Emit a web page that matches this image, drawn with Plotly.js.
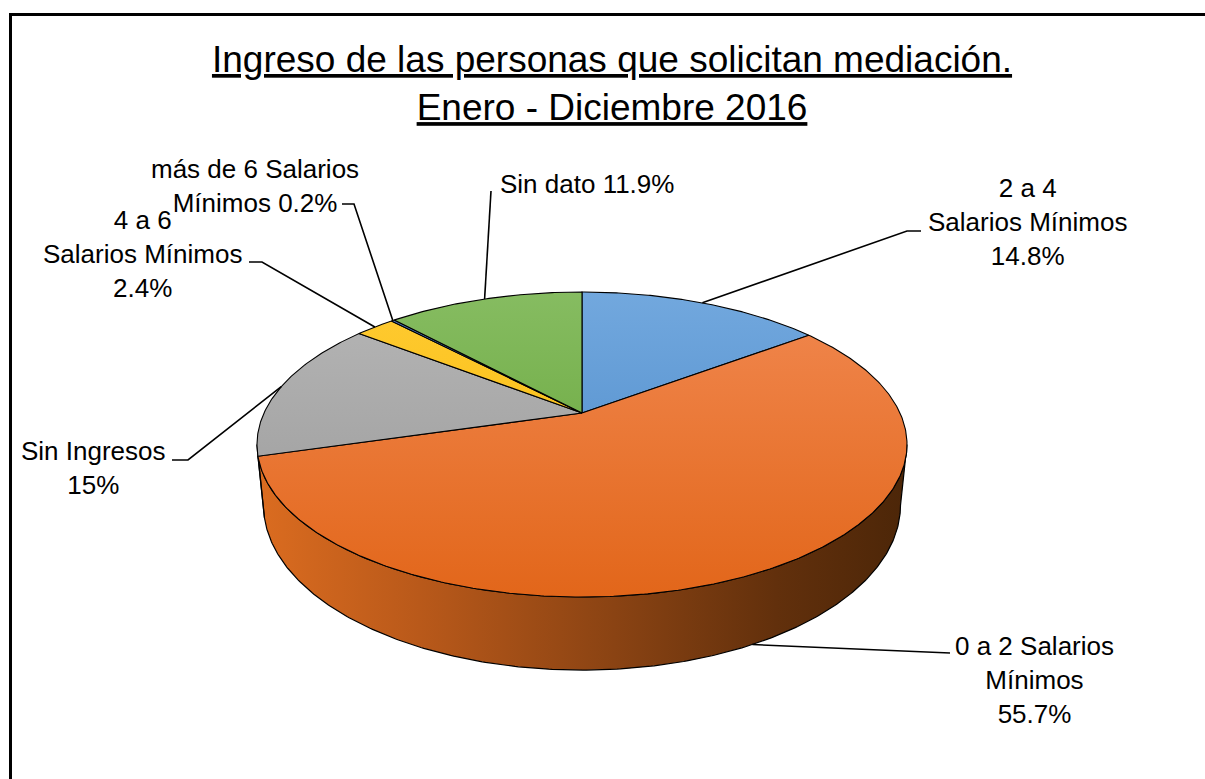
<!DOCTYPE html>
<html><head><meta charset="utf-8">
<script src="https://cdn.plot.ly/plotly-3.0.1.min.js"></script>
<style>html,body{margin:0;padding:0;background:#fff}#chart{width:1205px;height:779px}</style>
</head><body><div id="chart"></div>
<script>
// ---- data ----
const categories = ['2 a 4 Salarios Mínimos','0 a 2 Salarios Mínimos','Sin Ingresos','4 a 6 Salarios Mínimos','más de 6 Salarios Mínimos','Sin dato'];
const values = [14.8, 55.7, 15, 2.4, 0.2, 11.9];
const labelTexts = [
  '2 a 4<br>Salarios Mínimos<br>14.8%',
  '0 a 2 Salarios<br>Mínimos<br>55.7%',
  'Sin Ingresos<br>15%',
  '4 a 6<br>Salarios Mínimos<br>2.4%',
  'más de 6 Salarios<br>Mínimos 0.2%',
  'Sin dato 11.9%'
];
const titleText = 'Ingreso de las personas que solicitan mediación.<br>Enero - Diciembre 2016';

// ---- styling / geometry (layout constants) ----
const topColors = [
  ['#72a8de','#4685c6'],
  ['#f18850','#e2661a'],
  ['#b6b6b6','#979797'],
  ['#ffcb33','#f5b700'],
  ['#4f7cc9','#3d66b0'],
  ['#86bc61','#60a131']
];
const sideColors = [
  ['#4a87c7','#24466e'],
  null,
  ['#a0a0a0','#606060'],
  ['#f5b700','#9a7000'],
  ['#3d66b0','#22396a'],
  ['#60a131','#335a18']
];
const CX = 582, CY = 413, A = 146, B = 318, K = 0.2066, H = 58, SB = 0.98;
const TOPY = CY - A/(1+K), BOTY = CY + A/(1-K);
const labelPos = [
  {x:1027, y:222, leader:[[907,231],[921,231]], bottom:false},
  {x:1034, y:680, leader:[[950,653]], bottom:true},
  {x:93,  y:468, leader:[[188,460],[172,460]], bottom:false},
  {x:142, y:254, leader:[[262,262],[249,262]], bottom:false},
  {x:255, y:186, leader:[[354,204],[342,204]], bottom:false},
  {x:587, y:184, leader:[[491,191]], bottom:false}
];

function proj(deg, depth){
  const t = deg*Math.PI/180, s = Math.sin(t), c = Math.cos(t), d = 1 + K*c;
  if(depth) return [CX + SB*B*s/d, CY - A*c/d + H/d];
  return [CX + B*s/d, CY - A*c/d];
}
function arc(a, b, depth){
  const pts = []; const n = Math.max(2, Math.ceil(Math.abs(b-a)/0.5));
  for(let i=0;i<=n;i++) pts.push(proj(a + (b-a)*i/n, depth));
  return pts;
}

const total = values.reduce((p,v)=>p+v,0);
const starts = [], ends = [];
let acc = 0;
values.forEach(v=>{ starts.push(acc/total*360); acc += v; ends.push(acc/total*360); });

const traces = [];
// side wall (visible front part)
const thR = Math.acos(-K)*180/Math.PI, thL = 360 - thR;
values.forEach((v,i)=>{
  const a = Math.max(starts[i], thR), b = Math.min(ends[i], thL);
  if(b <= a) return;
  const top = arc(a,b,false), bot = arc(b,a,true);
  const pts = top.concat(bot); pts.push(top[0]);
  const sc = i===1 ? [[0,'#db6c20'],[0.25,'#b9591a'],[0.55,'#8a4313'],[0.8,'#62300c'],[1,'#4c2608']]
                   : [[0,sideColors[i][0]],[1,sideColors[i][1]]];
  traces.push({type:'scatter', mode:'lines', x:pts.map(p=>p[0]), y:pts.map(p=>p[1]),
    fill:'toself', line:{color:'#000', width:1.2}, hoverinfo:'skip', name:categories[i],
    fillgradient:{type:'horizontal', start:CX-B/Math.sqrt(1-K*K), stop:CX+B/Math.sqrt(1-K*K), colorscale:sc}});
});
// top faces
values.forEach((v,i)=>{
  const pts = [[CX,CY]].concat(arc(starts[i], ends[i], false)); pts.push([CX,CY]);
  traces.push({type:'scatter', mode:'lines', x:pts.map(p=>p[0]), y:pts.map(p=>p[1]),
    fill:'toself', line:{color:'#000', width:1.1}, hoverinfo:'skip', name:categories[i],
    fillgradient:{type:'vertical', start:TOPY, stop:BOTY, colorscale:[[0,topColors[i][0]],[1,topColors[i][1]]]}});
});
// leader lines
values.forEach((v,i)=>{
  const mid = (starts[i]+ends[i])/2;
  const p0 = proj(mid, labelPos[i].bottom);
  const pts = [p0].concat(labelPos[i].leader);
  traces.push({type:'scatter', mode:'lines', x:pts.map(p=>p[0]), y:pts.map(p=>p[1]),
    line:{color:'#000', width:1.6}, hoverinfo:'skip', name:categories[i]+' línea'});
});

const annotations = values.map((v,i)=>({
  x:labelPos[i].x, y:labelPos[i].y, xref:'x', yref:'y', text:labelTexts[i], showarrow:false,
  xanchor:'center', yanchor:'middle', align:'center',
  font:{family:'Liberation Sans, Arial, sans-serif', size:26, color:'#000'}
}));

const layout = {
  width:1205, height:779, margin:{l:0,r:0,t:0,b:0},
  paper_bgcolor:'#fff', plot_bgcolor:'#fff', showlegend:false,
  xaxis:{range:[0,1205], visible:false, fixedrange:true},
  yaxis:{range:[779,0], visible:false, fixedrange:true},
  title:{text:titleText, x:612/1205, xanchor:'center', y:1-72/779, yanchor:'top', yref:'container',
    font:{family:'Liberation Sans, Arial, sans-serif', size:37, color:'#000', lineposition:'under'}},
  annotations:annotations,
  shapes:[{type:'rect', xref:'x', yref:'y', x0:10.5, x1:1215, y0:14.5, y1:800, line:{color:'#000', width:3}}]
};
Plotly.newPlot('chart', traces, layout, {displayModeBar:false, staticPlot:true});
</script></body></html>
